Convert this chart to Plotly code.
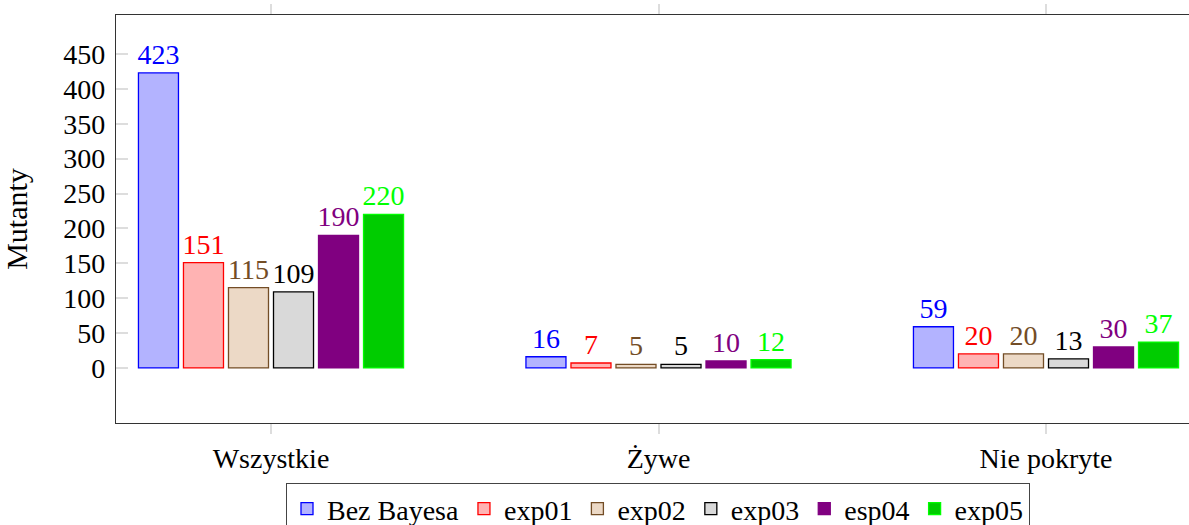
import plotly.graph_objects as go

categories = ["Wszystkie", "Żywe", "Nie pokryte"]
series_names = ["Bez Bayesa", "exp01", "exp02", "exp03", "esp04", "exp05"]
values = [
    [423, 16, 59],
    [151, 7, 20],
    [115, 5, 20],
    [109, 5, 13],
    [190, 10, 30],
    [220, 12, 37],
]
fills = ["#b3b3ff", "#ffb3b3", "#ecd9c6", "#d9d9d9", "#800080", "#00cc00"]
strokes = ["#0000ff", "#ff0000", "#734d26", "#000000", "#800080", "#00ff00"]
text_colors = ["#0000ff", "#ff0000", "#734d26", "#000000", "#800080", "#00ff00"]
y_ticks = [0, 50, 100, 150, 200, 250, 300, 350, 400, 450]

FONT = "Liberation Serif"
FS = 28

fig = go.Figure()
for name, vals, fc, sc, tc in zip(series_names, values, fills, strokes, text_colors):
    fig.add_trace(go.Bar(
        x=[0, 1, 2], y=vals, name=name,
        marker=dict(color=fc, line=dict(color=sc, width=1.3)),
        text=[str(v) for v in vals], textposition="outside",
        textfont=dict(family=FONT, size=FS, color=tc),
        constraintext="none", cliponaxis=False,
    ))

fig.update_layout(
    width=1201, height=525,
    margin=dict(l=116, r=0, t=15, b=102),
    paper_bgcolor="white", plot_bgcolor="white",
    barmode="group", bargap=0.303, bargroupgap=0.111,
    font=dict(family=FONT, size=FS, color="black"),
    showlegend=True,
    legend=dict(orientation="h", xref="container", yref="container",
                x=658 / 1201, xanchor="center", y=1 - 483 / 525, yanchor="top",
                bordercolor="#444", borderwidth=1, bgcolor="white",
                font=dict(family=FONT, size=FS), itemwidth=30, tracegroupgap=0),
    xaxis=dict(range=[-0.4, 2.4], tickvals=[0, 1, 2], ticktext=categories,
               showline=True, linecolor="#333", linewidth=1.2, mirror="ticks",
               ticks="outside", ticklen=10, tickcolor="#dddddd", tickwidth=1.5,
               showgrid=False, zeroline=False, automargin=False,
               tickfont=dict(family=FONT, size=FS)),
    yaxis=dict(range=[-79, 506], tickvals=y_ticks,
               showline=True, linecolor="#333", linewidth=1.2, mirror=False,
               ticks="inside", ticklen=12, tickcolor="#dddddd", tickwidth=1.5,
               showgrid=False, zeroline=False, ticklabelstandoff=4, automargin=False,
               tickfont=dict(family=FONT, size=FS),
               title=dict(text="Mutanty", font=dict(family=FONT, size=30), standoff=26)),
)

post = (
    "var h=document.documentElement,b=document.body;"
    "h.style.margin='0';h.style.padding='0';h.style.overflow='hidden';"
    "b.style.margin='0';b.style.padding='0';b.style.overflow='hidden';"
)
fig.write_html("out.html", config={"displayModeBar": False}, post_script=post)
